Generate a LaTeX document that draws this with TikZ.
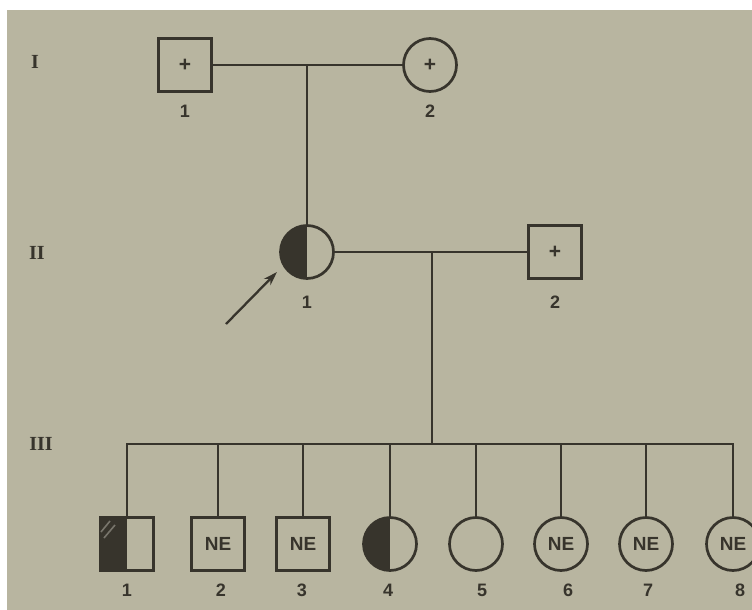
\documentclass[tikz,border=0pt]{standalone}
\usepackage{fontspec}
\setmainfont{Liberation Sans}
\newfontfamily\romfont{Liberation Serif}
\usetikzlibrary{arrows.meta}
\definecolor{paper}{RGB}{184,181,160}
\definecolor{ink}{RGB}{55,52,44}
\definecolor{hatch}{RGB}{120,117,108}
\tikzset{
  person/.style={draw=ink, line width=2.7pt, fill=paper, minimum size=53pt, inner sep=0pt},
  male/.style={person, rectangle},
  female/.style={person, circle},
  halfleft/.style={path picture={\fill[ink] (path picture bounding box.south west) rectangle (path picture bounding box.north);}},
  link/.style={draw=ink, line width=2.4pt},
  num/.style={text=ink, font=\bfseries\fontsize{18}{18}\selectfont, inner sep=0pt},
  gen/.style={text=ink, font=\romfont\bfseries\fontsize{20}{20}\selectfont, inner sep=0pt},
  ne/.style={text=ink, font=\bfseries\fontsize{19}{19}\selectfont},
  plus/.style={text=ink, font=\bfseries\fontsize{21}{21}\selectfont}
}
\begin{document}
\begin{tikzpicture}[x=1pt,y=-1pt]
\useasboundingbox (0,0) rectangle (752,610);
\clip (0,0) rectangle (752,610);
\fill[white] (0,0) rectangle (752,610);
\fill[paper] (7,10) rectangle (752,610);

% generation labels
\node[gen] (gI) at (35,62) {I};
\node[gen] (gII) at (37,253) {II};
\node[gen] (gIII) at (41,444) {III};

% generation I
\node[male, plus] (I1) at (185,65) {+};
\node[female, plus] (I2) at (430,65) {+};
\node[num] (lI1) at (185,111) {1};
\node[num] (lI2) at (430,111) {2};
\draw[link] (I1.east) -- (I2.west);
\coordinate (dI) at (307,65);

% generation II
\node[female, halfleft] (II1) at (307,252) {};
\node[male, plus] (II2) at (555,252) {+};
\node[num] (lII1) at (307,302) {1};
\node[num] (lII2) at (555,302) {2};
\draw[link] (dI) -- (II1.north);
\draw[link] (II1.east) -- (II2.west);
\coordinate (dII) at (432,252);
\coordinate (sib) at (432,444);
\draw[link] (dII) -- (sib);

% proband arrow
\coordinate (atail) at (226,324);
\coordinate (ahead) at (277,272);
\draw[draw=ink, line width=2.3pt, -{Stealth[length=14pt,width=9pt]}] (atail) -- (ahead);

% generation III
\node[male, halfleft] (III1) at (127,544) {};
\node[male, ne] (III2) at (218,544) {NE};
\node[male, ne] (III3) at (303,544) {NE};
\node[female, halfleft] (III4) at (390,544) {};
\node[female] (III5) at (476,544) {};
\node[female, ne] (III6) at (561,544) {NE};
\node[female, ne] (III7) at (646,544) {NE};
\node[female, ne] (III8) at (733,544) {NE};

\draw[hatch, line width=1.6pt] (101,532) -- (110,521);
\draw[hatch, line width=1.6pt] (104,538) -- (115,525);

\node[num] (l1) at (127,590) {1};
\node[num] (l2) at (221,590) {2};
\node[num] (l3) at (302,590) {3};
\node[num] (l4) at (388,590) {4};
\node[num] (l5) at (482,590) {5};
\node[num] (l6) at (568,590) {6};
\node[num] (l7) at (648,590) {7};
\node[num] (l8) at (740,590) {8};

\draw[link] (III1.north) |- (sib) -| (III8.north);
\foreach \k in {2,...,7} {
  \draw[link] (III\k.north) -- (III\k.north |- sib);
}
\end{tikzpicture}
\end{document}
